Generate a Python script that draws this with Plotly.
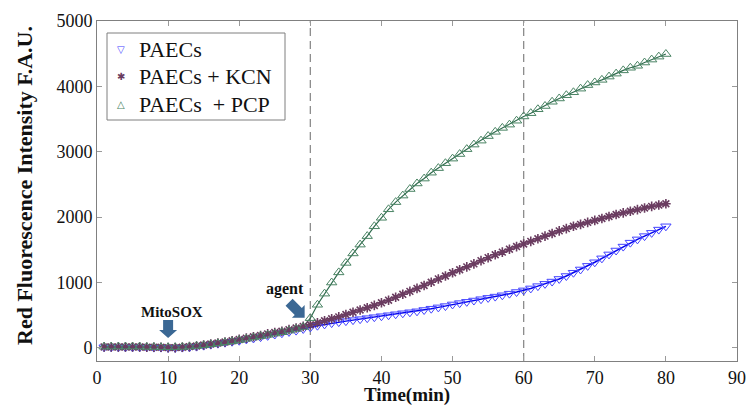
import math
import plotly.graph_objects as go

# ---------------- data ----------------
time_min = list(range(1, 81))

paecs = [10, 10, 10, 10, 10, 10, 10, 5, 5, 0,
         0, 5, 10, 20, 35, 50, 65, 80, 95, 110,
         130, 145, 165, 185, 205, 225, 245, 265, 290, 315,
         340, 360, 380, 395, 410, 425, 440, 455, 470, 485,
         500, 515, 530, 545, 560, 580, 600, 620, 640, 665,
         685, 705, 725, 745, 765, 785, 805, 830, 855, 880,
         910, 945, 980, 1015, 1055, 1100, 1150, 1200, 1255, 1310,
         1370, 1430, 1490, 1550, 1610, 1660, 1710, 1760, 1810, 1860]

paecs_kcn = [15, 15, 15, 15, 15, 15, 10, 10, 10, 5,
             5, 10, 20, 30, 45, 60, 75, 90, 110, 130,
             150, 170, 190, 215, 235, 255, 280, 305, 330, 355,
             385, 415, 445, 475, 510, 545, 580, 615, 650, 690,
             730, 775, 820, 865, 910, 955, 1005, 1055, 1100, 1150,
             1195, 1240, 1285, 1335, 1380, 1425, 1465, 1510, 1550, 1590,
             1630, 1670, 1710, 1750, 1790, 1825, 1860, 1890, 1920, 1950,
             1980, 2010, 2040, 2065, 2090, 2115, 2140, 2165, 2185, 2205]

paecs_pcp = [20, 20, 20, 20, 20, 20, 15, 15, 10, 10,
             10, 15, 20, 30, 40, 55, 70, 85, 100, 120,
             140, 160, 180, 200, 220, 240, 265, 290, 320, 455,
             660, 830, 1000, 1155, 1300, 1445, 1580, 1710, 1860, 1990,
             2120, 2230, 2330, 2430, 2515, 2590, 2680, 2750, 2825, 2895,
             2965, 3040, 3110, 3170, 3240, 3305, 3365, 3415, 3475, 3540,
             3590, 3650, 3700, 3765, 3815, 3865, 3910, 3965, 4020, 4060,
             4100, 4150, 4195, 4245, 4285, 4315, 4365, 4410, 4455, 4495]

x_ticks = [0, 10, 20, 30, 40, 50, 60, 70, 80, 90]
y_ticks = [0, 1000, 2000, 3000, 4000, 5000]
agent_lines = [30, 60]
series_names = ["PAECs", "PAECs + KCN", "PAECs  + PCP"]

# ---------------- layout constants ----------------
W, H = 749, 406
ML, MR, MT, MB = 97, 12, 21, 45
XR = [0, 90]
YR = [-200, 5000]
PW, PH = W - ML - MR, H - MT - MB
px_x = PW / (XR[1] - XR[0])
px_y = PH / (YR[1] - YR[0])

FONT = "Liberation Serif, Times New Roman, serif"
C_BLUE, C_KCN, C_PCP = "#4444ff", "#6a3c60", "#4a8464"


def paper_x(px):
    return (px - ML) / PW


def paper_y(py):
    return (H - MB - py) / PH


fig = go.Figure()

# lines
fig.add_trace(go.Scatter(x=time_min, y=paecs_pcp, mode="lines",
                         line=dict(color="#2f6b4d", width=1.2),
                         showlegend=False, hoverinfo="skip"))
fig.add_trace(go.Scatter(x=time_min, y=paecs_kcn, mode="lines",
                         line=dict(color="#d8b8d0", width=3),
                         showlegend=False, hoverinfo="skip"))
fig.add_trace(go.Scatter(x=time_min, y=paecs_kcn, mode="lines",
                         line=dict(color=C_KCN, width=1),
                         showlegend=False, hoverinfo="skip"))
fig.add_trace(go.Scatter(x=time_min, y=paecs, mode="lines",
                         line=dict(color="#0000ee", width=1.5),
                         showlegend=False, hoverinfo="skip"))

# markers
fig.add_trace(go.Scatter(x=time_min, y=paecs, mode="markers", name=series_names[0],
                         showlegend=False,
                         marker=dict(symbol="triangle-down-open", size=9,
                                     color=C_BLUE, line=dict(width=1, color=C_BLUE))))
fig.add_trace(go.Scatter(x=time_min, y=paecs_kcn, mode="markers", name=series_names[1],
                         showlegend=False,
                         marker=dict(symbol="asterisk-open", size=8,
                                     color=C_KCN, line=dict(width=1.6, color=C_KCN))))
fig.add_trace(go.Scatter(x=time_min, y=paecs_pcp, mode="markers", name=series_names[2],
                         showlegend=False,
                         marker=dict(symbol="triangle-up-open", size=9,
                                     color=C_PCP, line=dict(width=1, color=C_PCP))))

# dashed vertical lines
for xv in agent_lines:
    fig.add_shape(type="line", xref="x", yref="paper", x0=xv, x1=xv, y0=0, y1=1,
                  line=dict(color="#8c8c8c", width=1.3, dash="8px,5px"), layer="below")


def block_arrow(tip_x, tip_y, angle_deg, shaft_len=10, head_len=8, shaft_w=10, head_w=18):
    """Arrow pointing down (rotated CCW by angle_deg), offsets in pixels."""
    pts = [(0, 0), (-head_w / 2, head_len), (-shaft_w / 2, head_len),
           (-shaft_w / 2, head_len + shaft_len), (shaft_w / 2, head_len + shaft_len),
           (shaft_w / 2, head_len), (head_w / 2, head_len)]
    a = math.radians(angle_deg)
    out = []
    for dx, dy in pts:
        rx = dx * math.cos(a) - dy * math.sin(a)
        ry = dx * math.sin(a) + dy * math.cos(a)
        out.append((tip_x + rx / px_x, tip_y + ry / px_y))
    return "M " + " L ".join(f"{x:.4f},{y:.4f}" for x, y in out) + " Z"


arrow_color = "#3b6894"
fig.add_shape(type="path", xref="x", yref="y", path=block_arrow(10, 150, 0),
              fillcolor=arrow_color, line=dict(width=0))
fig.add_shape(type="path", xref="x", yref="y",
              path=block_arrow(29.2, 460, 45, shaft_len=13, head_len=9),
              fillcolor=arrow_color, line=dict(width=0))

fig.add_annotation(x=10.5, y=555, text="<b>MitoSOX</b>", showarrow=False,
                   font=dict(family=FONT, size=15, color="#111111"))
fig.add_annotation(x=26.4, y=900, text="<b>agent</b>", showarrow=False,
                   font=dict(family=FONT, size=16, color="#111111"))

# axis titles
fig.add_annotation(xref="paper", yref="paper", x=paper_x(407), y=0,
                   yanchor="middle", yshift=-34, showarrow=False,
                   text="<b>Time(min)</b>", font=dict(family=FONT, size=19, color="#111111"))
fig.add_annotation(xref="paper", yref="paper", x=0, y=paper_y(186),
                   xanchor="center", xshift=-73, textangle=-90, showarrow=False,
                   text="<b>Red Fluorescence Intensity F.A.U.</b>",
                   font=dict(family=FONT, size=22, color="#111111"))

# legend box (drawn by hand to match row spacing)
fig.add_shape(type="rect", xref="paper", yref="paper",
              x0=paper_x(107), x1=paper_x(285), y0=paper_y(120), y1=paper_y(33),
              fillcolor="white", line=dict(color="#7f7f7f", width=1), layer="above")
legend_rows = [49, 76, 104]
legend_syms = ["▽", "✱", "△"]
legend_cols = [C_BLUE, C_KCN, C_PCP]
for name, py, sym, col in zip(series_names, legend_rows, legend_syms, legend_cols):
    fig.add_annotation(xref="paper", yref="paper", x=paper_x(121), y=paper_y(py),
                       xanchor="center", yanchor="middle", showarrow=False,
                       text=sym, font=dict(family="DejaVu Sans", size=10, color=col))
    fig.add_annotation(xref="paper", yref="paper", x=paper_x(137), y=paper_y(py),
                       xanchor="left", yanchor="middle", showarrow=False,
                       text=name.replace("  ", "&nbsp; "),
                       font=dict(family=FONT, size=22, color="#111111"))

axis_common = dict(showline=True, linecolor="#808080", linewidth=1, mirror="allticks",
                   ticks="inside", ticklen=5, tickcolor="#9a9a9a", showgrid=False,
                   zeroline=False, automargin=False,
                   tickfont=dict(family=FONT, size=18, color="#111111"))

fig.update_layout(
    width=W, height=H,
    margin=dict(l=ML, r=MR, t=MT, b=MB),
    paper_bgcolor="white", plot_bgcolor="white",
    xaxis=dict(range=XR, tickvals=x_ticks, ticktext=[str(v) for v in x_ticks], **axis_common),
    yaxis=dict(range=YR, tickvals=y_ticks, ticktext=[str(v) for v in y_ticks], **axis_common),
    showlegend=False,
)

fig.write_html("out.html", config={"displayModeBar": False},
               post_script="document.body.style.margin='0px';")
